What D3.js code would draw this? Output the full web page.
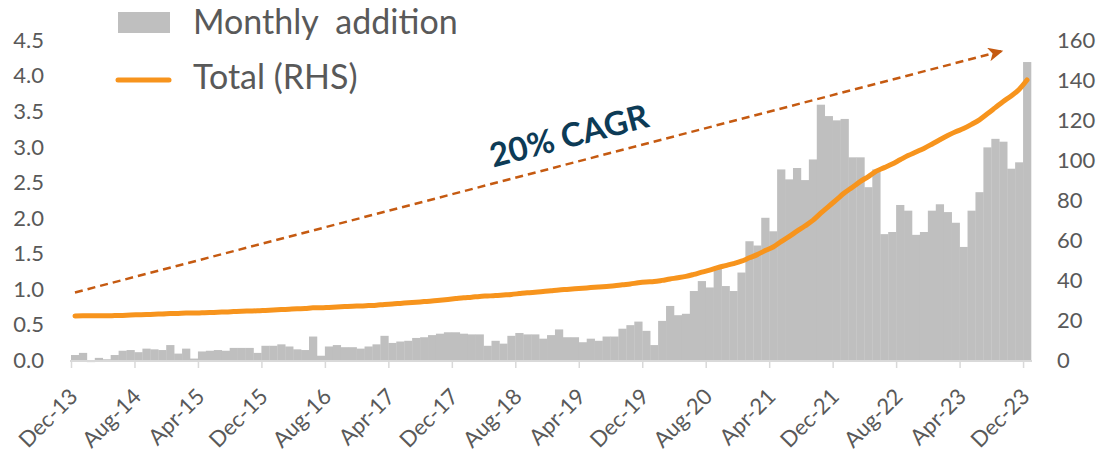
<!DOCTYPE html>
<html>
<head>
<meta charset="utf-8">
<script src="https://cdn.jsdelivr.net/npm/d3@7"></script>
<style>
  body { margin: 0; background: #fff; }
  text { font-family: Lato, sans-serif; fill: #595959; }
</style>
</head>
<body>
<div id="chart"></div>
<script>
// Monthly addition (LHS), Dec-13 .. Dec-23
const monthly = [
  0.07, 0.10, -0.03, 0.03, 0.01, 0.07, 0.13, 0.14, 0.11, 0.16, 0.15, 0.14,
  0.21, 0.09, 0.16, 0.02, 0.12, 0.13, 0.14, 0.13, 0.17, 0.17, 0.17, 0.10,
  0.20, 0.20, 0.22, 0.19, 0.15, 0.14, 0.33, 0.06, 0.19, 0.21, 0.18, 0.18,
  0.16, 0.19, 0.22, 0.34, 0.24, 0.26, 0.27, 0.31, 0.32, 0.35, 0.37, 0.39,
  0.39, 0.37, 0.36, 0.36, 0.20, 0.27, 0.23, 0.34, 0.38, 0.36, 0.36, 0.30,
  0.35, 0.43, 0.32, 0.32, 0.25, 0.30, 0.27, 0.33, 0.33, 0.44, 0.49, 0.54,
  0.41, 0.21, 0.55, 0.76, 0.63, 0.65, 0.97, 1.11, 1.02, 1.30, 1.04, 0.97,
  1.23, 1.67, 1.61, 2.00, 1.81, 2.68, 2.54, 2.70, 2.53, 2.82, 3.59, 3.43,
  3.37, 3.39, 2.85, 2.85, 2.43, 2.68, 1.77, 1.80, 2.18, 2.10, 1.76, 1.80,
  2.10, 2.19, 2.08, 1.93, 1.59, 2.10, 2.36, 2.99, 3.11, 3.07, 2.69, 2.78,
  4.19
];

// Total (RHS)
const total = [
  22.0, 22.1, 22.1, 22.1, 22.1, 22.2, 22.3, 22.5, 22.6, 22.7, 22.9, 23.0,
  23.2, 23.3, 23.5, 23.5, 23.6, 23.7, 23.9, 24.0, 24.2, 24.4, 24.5, 24.6,
  24.8, 25.0, 25.2, 25.4, 25.6, 25.7, 26.1, 26.1, 26.3, 26.5, 26.7, 26.9,
  27.0, 27.2, 27.4, 27.8, 28.0, 28.3, 28.6, 28.9, 29.2, 29.5, 29.9, 30.3,
  30.7, 31.1, 31.4, 31.8, 32.0, 32.2, 32.5, 32.8, 33.2, 33.6, 33.9, 34.2,
  34.6, 35.0, 35.3, 35.6, 35.9, 36.2, 36.5, 36.8, 37.1, 37.6, 38.0, 38.6,
  39.0, 39.2, 39.8, 40.5, 41.1, 41.8, 42.8, 43.9, 44.9, 46.2, 47.2, 48.2,
  49.4, 51.1, 52.7, 54.7, 56.5, 59.2, 61.7, 64.4, 67.0, 69.8, 73.4, 76.8,
  80.2, 83.6, 86.4, 89.3, 91.7, 94.4, 96.2, 98.0, 100.1, 102.2, 104.0, 105.8,
  107.9, 110.1, 112.2, 114.1, 115.7, 117.8, 120.1, 123.1, 126.2, 129.3, 132.0, 135.3,
  140.0
];

const tickLabels = ["Dec-13", "Aug-14", "Apr-15", "Dec-15", "Aug-16", "Apr-17", "Dec-17", "Aug-18",
                    "Apr-19", "Dec-19", "Aug-20", "Apr-21", "Dec-21", "Aug-22", "Apr-23", "Dec-23"];
const leftTicks = [0, 0.5, 1, 1.5, 2, 2.5, 3, 3.5, 4, 4.5];
const rightTicks = [0, 20, 40, 60, 80, 100, 120, 140, 160];
const seriesNames = ["Monthly  addition", "Total (RHS)"];
const cagrText = "20% CAGR";
const cagrStart = { month: "Dec-13", value: 0.95 };
const cagrEnd = { month: "Sep-23", value: 4.35 };

const width = 1101, height = 452;
const fmtMonth = d3.timeFormat("%b-%y");
const months = d3.timeMonth.range(new Date(2013, 11, 1), new Date(2024, 0, 1)).map(fmtMonth);

const svg = d3.select("#chart").append("svg")
    .attr("width", width)
    .attr("height", height);

const x = d3.scaleBand()
    .domain(months)
    .range([71, 1031])
    .padding(0);

const yL = d3.scaleLinear().domain([0, 4.5]).range([360, 40]);
const yR = d3.scaleLinear().domain([0, 160]).range([360, 40]);

// bars
svg.append("g").selectAll("rect")
  .data(monthly)
  .enter()
  .append("rect")
    .attr("x", (d, i) => x(months[i]))
    .attr("width", x.bandwidth() + 0.3)
    .attr("y", d => yL(Math.max(d, 0)))
    .attr("height", d => Math.abs(yL(d) - yL(0)))
    .style("fill", "#bfbfbf");

// x axis line + ticks
const axis = svg.append("g");
axis.append("line")
    .attr("x1", 70).attr("x2", 1032)
    .attr("y1", yL(0) + 1).attr("y2", yL(0) + 1)
    .style("stroke", "#d9d9d9").style("stroke-width", 2);

axis.selectAll(".tk")
  .data(tickLabels)
  .enter()
  .append("line")
    .attr("x1", d => x(d) + 0.5).attr("x2", d => x(d) + 0.5)
    .attr("y1", yL(0)).attr("y2", yL(0) + 8)
    .style("stroke", "#d9d9d9").style("stroke-width", 1.5);

axis.selectAll(".xl")
  .data(tickLabels)
  .enter()
  .append("text")
    .attr("transform", d => "translate(" + (x(d) + x.bandwidth() / 2 + 4) + ",398) rotate(-45)")
    .attr("text-anchor", "end")
    .style("font-size", "22px")
    .text(d => d);

// y axes labels
svg.append("g").selectAll("text")
  .data(leftTicks)
  .enter()
  .append("text")
    .attr("x", 44)
    .attr("y", d => yL(d))
    .attr("dy", "0.36em")
    .attr("text-anchor", "end")
    .style("font-size", "22px")
    .text(d3.format(".1f"));

svg.append("g").selectAll("text")
  .data(rightTicks)
  .enter()
  .append("text")
    .attr("x", 1057)
    .attr("y", d => yR(d))
    .attr("dy", "0.36em")
    .style("font-size", "22px")
    .text(d => d);

// total line
const line = d3.line()
    .x((d, i) => x(months[i]) + x.bandwidth() / 2)
    .y(d => yR(d))
    .curve(d3.curveMonotoneX);

svg.append("path")
    .datum(total)
    .attr("d", line)
    .style("fill", "none")
    .style("stroke", "#f7941d")
    .style("stroke-width", 5)
    .style("stroke-linecap", "round")
    .style("stroke-linejoin", "round");

// CAGR arrow
svg.append("defs").append("marker")
    .attr("id", "arrow")
    .attr("markerUnits", "userSpaceOnUse")
    .attr("markerWidth", 16).attr("markerHeight", 14)
    .attr("refX", 15).attr("refY", 7)
    .attr("orient", "auto")
  .append("path")
    .attr("d", "M0,0 L15,7 L0,14 L4,7 Z")
    .style("fill", "#c55a11");

const ax1 = x(cagrStart.month) + x.bandwidth() / 2, ay1 = yL(cagrStart.value);
const ax2 = x(cagrEnd.month) + x.bandwidth() / 2, ay2 = yL(cagrEnd.value);
svg.append("line")
    .attr("x1", ax1).attr("y1", ay1)
    .attr("x2", ax2).attr("y2", ay2)
    .style("stroke", "#c55a11")
    .style("stroke-width", 2.5)
    .style("stroke-dasharray", "8,5")
    .attr("marker-end", "url(#arrow)");

const angle = Math.atan2(ay2 - ay1, ax2 - ax1) * 180 / Math.PI;
svg.append("text")
    .attr("transform", "translate(572,147) rotate(" + angle + ")")
    .attr("text-anchor", "middle")
    .style("font-size", "33px")
    .style("font-weight", "bold")
    .style("fill", "#0d3b56")
    .text(cagrText);

// legend
const legend = svg.append("g");
legend.append("rect")
    .attr("x", 118).attr("y", 12)
    .attr("width", 52).attr("height", 21)
    .style("fill", "#bfbfbf");
legend.append("line")
    .attr("x1", 118).attr("x2", 169)
    .attr("y1", 80).attr("y2", 80)
    .style("stroke", "#f7941d")
    .style("stroke-width", 5)
    .style("stroke-linecap", "round");
legend.selectAll(".lt")
  .data(seriesNames)
  .enter()
  .append("text")
    .attr("x", 193)
    .attr("y", (d, i) => 34 + i * 55)
    .style("font-size", "34px")
    .style("white-space", "pre")
    .attr("xml:space", "preserve")
    .text(d => d);
</script>
</body>
</html>
